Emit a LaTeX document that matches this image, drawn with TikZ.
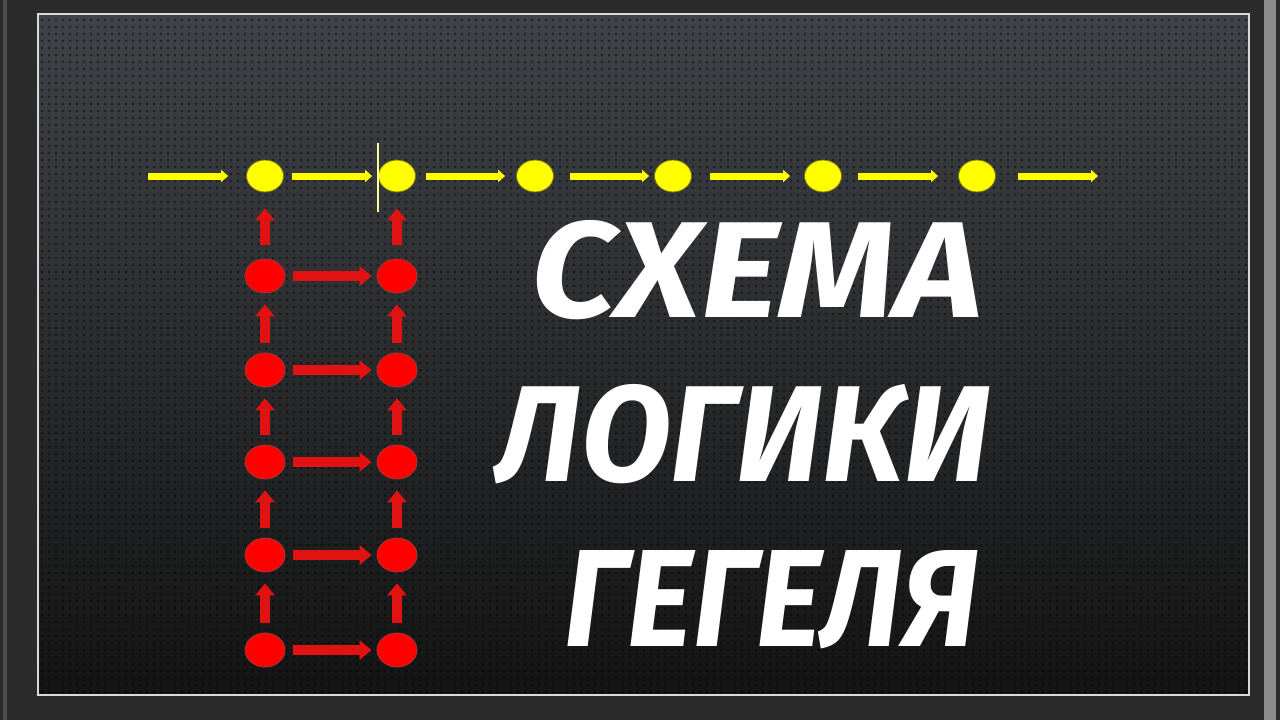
\documentclass[tikz,border=0pt]{standalone}
\usepackage{fontspec}
\setmainfont{Fira Sans}
\usetikzlibrary{shapes.geometric,arrows.meta,patterns.meta}
\definecolor{frame}{HTML}{2B2B2B}
\definecolor{paneltop}{HTML}{404347}
\definecolor{panelbot}{HTML}{141414}
\definecolor{ydot}{HTML}{FFFF00}
\definecolor{yline}{HTML}{7A7A10}
\definecolor{rdot}{HTML}{FF0000}
\definecolor{rline}{HTML}{A03A3A}
\definecolor{rarrow}{HTML}{E01212}
\tikzset{
  ynode/.style={ellipse,fill=ydot,draw=yline,line width=0.8pt,minimum width=37pt,minimum height=32pt,inner sep=0pt},
  rnode/.style={ellipse,fill=rdot,draw=rline,line width=0.8pt,minimum width=40pt,minimum height=34pt,inner sep=0pt},
  yarrow/.style={draw=ydot,line width=7pt,-{Triangle[width=12pt,length=7pt]}},
  rarr/.style={draw=rarrow,line width=10.5pt,-{Triangle[width=19pt,length=12pt]}},
  title/.style={text=white,inner sep=0pt,font=\bfseries\itshape}
}
\begin{document}
\begin{tikzpicture}[x=1pt,y=-1pt]
\useasboundingbox (0,0) rectangle (1280,720);
% outer frame
\fill[frame] (0,0) rectangle (1280,720);
\fill[black!70] (3,0) rectangle (7,720);
\fill[black!45] (1264,0) rectangle (1276,720);
% panel
\shade[top color=paneltop,bottom color=panelbot] (38,14) rectangle (1249,695);
\fill[pattern={Dots[distance=7pt,radius=1.6pt]},pattern color=black,opacity=0.4] (38,14) rectangle (1249,695);
\draw[white!85!black,line width=1.2pt] (38,14) rectangle (1249,695);

% yellow chain
\node[ynode] (y1) at (265,176) {};
\node[ynode] (y2) at (397,176) {};
\node[ynode] (y3) at (535,176) {};
\node[ynode] (y4) at (673,176) {};
\node[ynode] (y5) at (823,176) {};
\node[ynode] (y6) at (977,176) {};
\coordinate (ystart) at (148,176);
\coordinate (yend) at (1098,176);
\draw[yarrow,shorten >=18pt] (ystart) -- (y1);
\draw[yarrow,shorten <=8pt,shorten >=6pt] (y1) -- (y2);
\draw[yarrow,shorten <=10pt,shorten >=11pt] (y2) -- (y3);
\draw[yarrow,shorten <=16pt,shorten >=5pt] (y3) -- (y4);
\draw[yarrow,shorten <=18pt,shorten >=14pt] (y4) -- (y5);
\draw[yarrow,shorten <=16pt,shorten >=20pt] (y5) -- (y6);
\draw[yarrow,shorten <=22pt] (y6) -- (yend);
\draw[draw=yellow!40!white,line width=1.5pt] (378,143) -- (378,212);

% red ladder
\foreach \i/\yy in {1/276,2/370,3/462,4/555,5/650}{
  \node[rnode] (l\i) at (265,\yy) {};
  \node[rnode] (r\i) at (397,\yy) {};
}
\foreach \i in {1,...,5}{
  \draw[rarr,shorten <=8pt,shorten >=5pt] (l\i) -- (r\i);
}
\foreach \i/\j in {2/1,3/2,4/3,5/4}{
  \draw[rarr,shorten <=10pt,shorten >=11pt] (l\i) -- (l\j);
  \draw[rarr,shorten <=10pt,shorten >=11pt] (r\i) -- (r\j);
}
\draw[rarr,shorten <=14pt,shorten >=16pt] (l1) -- (y1);
\draw[rarr,shorten <=14pt,shorten >=16pt] (r1) -- (y2);

% title
\node[title] (t1) at (757,270.5) {\resizebox{450pt}{97pt}{СХЕМА}};
\node[title] (t2) at (743.5,434) {\resizebox{493pt}{97pt}{ЛОГИКИ}};
\node[title] (t3) at (771.5,600) {\resizebox{413pt}{96pt}{ГЕГЕЛЯ}};
\end{tikzpicture}
\end{document}
